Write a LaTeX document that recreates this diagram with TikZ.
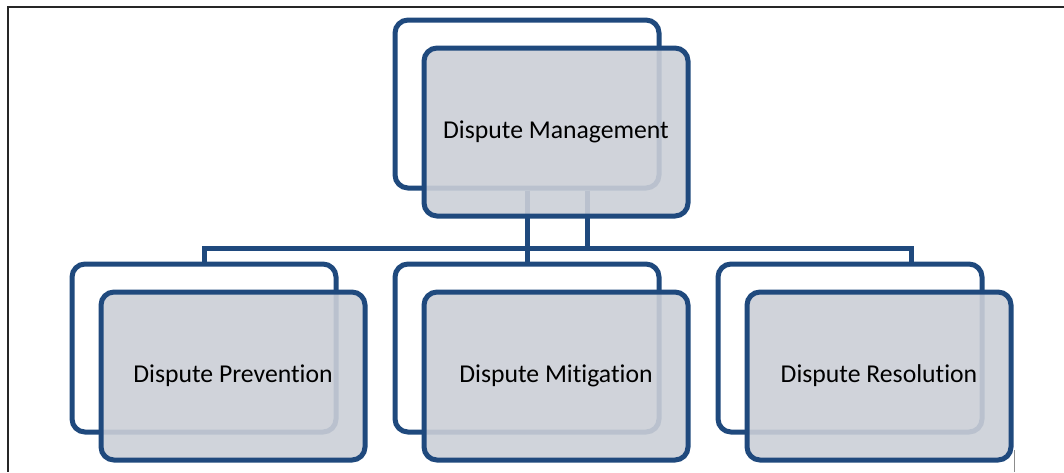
\documentclass[tikz,border=0pt]{standalone}
\usepackage{fontspec}
\setmainfont[Ligatures=NoCommon]{Carlito}
\definecolor{boxblue}{RGB}{31,73,125}
\definecolor{boxfill}{RGB}{203,207,215}
\begin{document}
\begin{tikzpicture}[x=1pt,y=-1pt,
  backbox/.style={draw=boxblue, line width=5pt, rounded corners=13pt, fill=white,
    minimum width=264pt, minimum height=168pt, inner sep=0pt},
  frontbox/.style={backbox, fill=boxfill, fill opacity=0.9, text opacity=1,
    font=\fontsize{25.7}{30}\selectfont, text=black},
  conn/.style={draw=boxblue, line width=5pt},
  frame/.style={draw=black!85, line width=1.6pt}]
\useasboundingbox (0,0) rectangle (1064,472);
% page frame
\coordinate (f1) at (1064,7);
\coordinate (f2) at (8,7);
\coordinate (f3) at (8,472);
\draw[frame] (f1) -- (f2) -- (f3);
\coordinate (g1) at (1014,450);
\coordinate (g2) at (1014,472);
\draw[draw=black!45, line width=0.9pt] (g1) -- (g2);
% back layer
\node[backbox] (tb) at (527,104) {};
\node[backbox] (lb) at (204,348) {};
\node[backbox] (mb) at (527,348) {};
\node[backbox] (rb) at (850,348) {};
% connectors
\coordinate (j1) at (587,248);
\coordinate (hl) at (204,248);
\coordinate (hr) at (911,248);
\draw[conn] (tb.south) -- (mb.north);
\draw[conn] (tb.south -| j1) -- (j1);
\draw[conn] (lb.north) -- (hl) -- (hr) -- (hr |- rb.north);
% front layer
\node[frontbox] (tf) at (556,132) {Dispute Management};
\node[frontbox] (lf) at (233,376) {Dispute Prevention};
\node[frontbox] (mf) at (556,376) {Dispute Mitigation};
\node[frontbox] (rf) at (879,376) {Dispute Resolution};
\end{tikzpicture}
\end{document}
